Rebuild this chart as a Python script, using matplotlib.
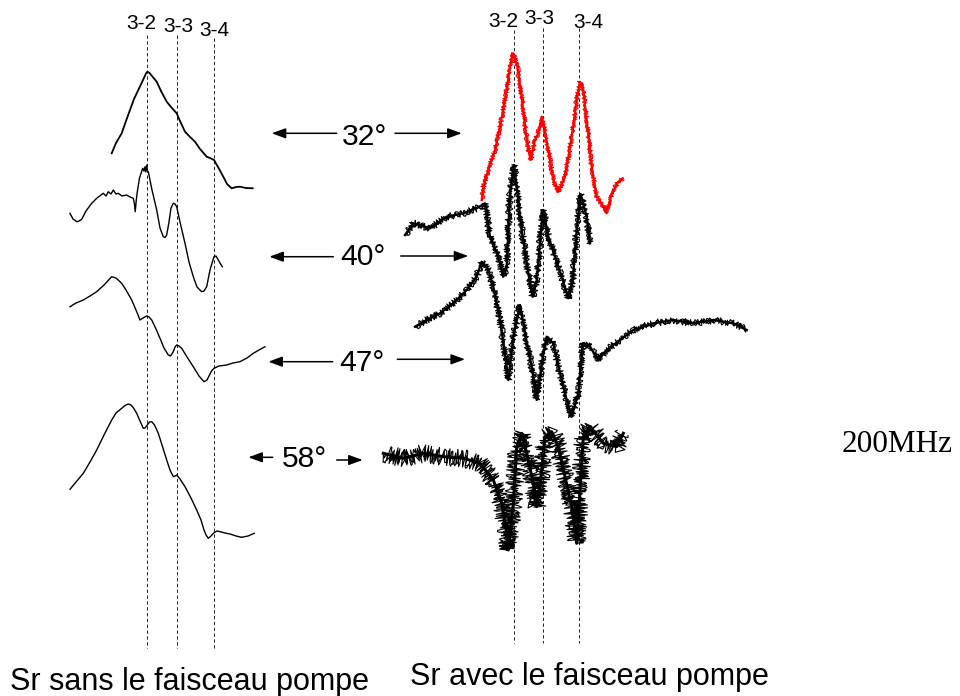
import matplotlib
matplotlib.use("Agg")
import matplotlib.pyplot as plt
from matplotlib import font_manager

# everything is placed on the picture's own pixel grid (x to the right, y downwards)

# hyperfine line positions (dashed guides)
left_lines_x = [147, 177, 214]
left_lines_top = [35, 35, 38]
left_lines_bottom = 648
right_lines_x = [514, 543, 579]
right_lines_top = [30, 28, 28]
right_lines_bottom = 643
line_labels = ["3-2", "3-3", "3-4"]
left_label_x = [141.7, 178, 214]
left_label_base = [29, 31.5, 36]
right_label_x = [503.3, 539.7, 588.7]
right_label_base = [27, 24, 28.5]

# Sr sans le faisceau pompe (left, smooth traces)
left_32_x = [111.7, 116, 121.7, 126, 130, 134, 138.3, 143, 146, 147.3, 149, 152, 156.7, 161, 166.7, 171, 176.7,
             180, 185, 190, 195, 200, 206.7, 210, 214, 218, 223.3, 227, 231.7, 236, 240, 246, 252.7]
left_32_y = [153.3, 143, 133.3, 121, 110, 99, 90, 80, 73.5, 71.7, 72.5, 76, 81.7, 91, 101.7, 107, 113.3,
             121, 131.7, 137, 141.7, 149, 156.7, 158, 160, 167, 176.7, 184, 188.3, 187, 186.7, 188, 188.3]

left_40_x = [70, 73, 76.7, 79, 81.7, 86, 91.7, 97, 103.3, 106, 108.3, 111, 113.3, 116, 118.3, 122, 126.7, 130,
             133.3, 134.5, 135.2, 136.3, 137.3, 139.5, 142.7, 144, 145, 145.8, 146.7, 147.5, 148.3, 152, 156.7,
             160, 163.3, 165, 166.7, 169, 171, 173.3, 175, 176.7, 180, 185, 189, 193.3, 197, 201.7, 204, 206.7,
             210, 214, 216, 218.3, 220, 222.3]
left_40_y = [213.3, 219, 221.7, 221, 219.3, 211, 203.3, 198, 193.3, 196, 191.7, 194, 190, 194, 193.3, 196, 195, 197,
             198.3, 204, 211.7, 200, 191.7, 178, 168.3, 171, 166.7, 172, 165, 171, 171.7, 190, 210,
             228, 236.7, 237.5, 235, 222, 208, 203.3, 204, 206.7, 222, 243.3, 262, 276.7, 287, 291.7, 291, 286.7,
             270, 256.7, 256, 260, 263, 266.7]

left_47_x = [70, 76, 83.3, 90, 96.7, 104, 111.7, 116, 121.7, 126, 131.7, 136, 140, 143, 146.7, 149, 151.7, 156,
             160, 164, 168.3, 170.5, 173.3, 175, 176.7, 179, 181.7, 187, 193.3, 199, 204, 207, 209, 211.5, 214,
             219, 226.7, 233, 240, 247, 253.3, 259, 265]
left_47_y = [306.7, 303, 300, 296, 291.7, 285, 276.7, 278, 283.3, 290, 300, 310, 320, 318, 316, 317, 320, 329,
             338.3, 348, 355, 356, 351.7, 347, 345, 346, 348.3, 357, 366.7, 376, 381.7, 380, 376, 371, 368.3,
             366, 365, 363, 361.7, 358, 353.3, 350, 346.7]

left_58_x = [70, 76, 83.3, 90, 96.7, 104, 111.7, 116, 121.7, 125, 128.3, 131, 133.5, 136.7, 140, 143.3, 145,
             147.3, 149.5, 151.7, 154.5, 158.3, 162, 166.7, 170, 173.3, 175, 176.7, 180, 185, 191, 196.7, 201,
             204, 206, 208.3, 211, 214, 217, 220, 225, 230, 236, 241.7, 248, 254.3]
left_58_y = [489.3, 482, 473.3, 462, 450, 435, 420, 413, 408.3, 405.5, 404, 405, 408, 413.3, 421, 428.3, 428,
             425, 422, 421.7, 425, 433.3, 445, 460, 470, 476.7, 476, 475, 479, 486.7, 498, 510, 520,
             530, 535, 538.3, 536, 532.7, 531, 531.7, 533, 534, 536, 537.3, 536, 533.3]

# Sr avec le faisceau pompe (right, noisy traces)
right_32_x = [481.7, 483.3, 488.3, 495, 500, 505, 510, 513.3, 517.3, 521.7, 526.7, 530.7, 535, 538.3, 541.7, 544,
              548.3, 553.3, 558.3, 565, 571.7, 576.7, 580, 583.3, 586.7, 591.7, 596.7, 603.3, 606.7, 611.7, 618.3, 622.7]
right_32_y = [200, 186.7, 170, 150, 126.7, 100, 66.7, 53.3, 66.7, 96.7, 140, 160, 140, 133.3, 116.7, 126.7,
              150, 180, 191.7, 176.7, 136.7, 100, 81.7, 90, 120, 166.7, 196.7, 206.7, 213.3, 193.3, 181.7, 178.3]

right_40_x = [405, 413.3, 430, 446.7, 463.3, 476.7, 485, 490, 498.3, 503.3, 506.7, 510, 514, 517, 521.7, 528.3,
              532.7, 536.7, 541.7, 543.3, 548.3, 555, 561.7, 568.3, 572.7, 576.7, 580.5, 586.7, 590]
right_40_y = [235, 223.3, 228.3, 216.7, 213.3, 208.3, 203.3, 236.7, 256.7, 276.7, 266.7, 193.3, 165, 190, 230, 273.3,
              296.7, 280, 223.3, 210, 236.7, 256.7, 276.7, 298.3, 280, 230, 194, 216.7, 243.3]

right_47_x = [415, 426.7, 440, 453.3, 466.7, 476.7, 481.7, 488.3, 493.3, 500, 505, 508.3, 513.3, 520, 525, 531.7,
              536.7, 543.3, 546.7, 553.3, 560, 566.7, 571.7, 578.3, 582.7, 590, 598.3, 606.7, 620, 633.3, 653.3,
              673.3, 693.3, 713.3, 733.3, 746.7]
right_47_y = [326.7, 320, 313.3, 303.3, 290, 276.7, 261.7, 270, 286.7, 320, 353.3, 380, 336.7, 305, 333.3, 366.7,
              400, 353.3, 336.7, 343.3, 373.3, 400, 416.7, 393.3, 343.3, 346.7, 360, 350, 340, 330, 323.3,
              320, 323.3, 320, 323.3, 330]

right_58_x = [383.3, 403.3, 423.3, 443.3, 463.3, 480, 493.3, 501.7, 506.7, 508.3, 513.3, 516.7, 521.7, 526.7,
              533.3, 536.7, 540, 545, 551.7, 558.3, 565, 571.7, 576.7, 580, 583.3, 590, 603.3, 616.7, 623.3]
right_58_y = [453.3, 458.3, 453.3, 456.7, 458.3, 463.3, 480, 503.3, 533.3, 550, 503.3, 446.7, 433.3, 453.3,
              483.3, 506.7, 486.7, 436.7, 431.7, 446.7, 476.7, 506.7, 543.3, 490, 436.7, 426.7, 443.3, 446.7, 433.3]

# angle labels and double arrows
angles = ["32°", "40°", "47°", "58°"]
angle_x = [364, 363, 361.5, 304]
angle_base = [145, 265, 370.7, 467]
arrow_left_from = [336.7, 333.3, 332.7, 272.7]
arrow_left_to = [271.7, 269.3, 268.3, 248.3]
arrow_left_y = [133.3, 256.7, 361.7, 457.3]
arrow_right_from = [395, 400.7, 397.3, 336.7]
arrow_right_to = [461.7, 468.3, 465, 362.7]
arrow_right_y = [133.3, 256, 359.3, 460]


def pick_font(names):
    for name in names:
        try:
            font_manager.findfont(name, fallback_to_default=False)
            return name
        except ValueError:
            pass
    return "DejaVu Sans"


sans = pick_font(["Liberation Sans", "Arial", "DejaVu Sans"])
serif = pick_font(["Liberation Serif", "Times New Roman", "DejaVu Serif"])

fig = plt.figure(figsize=(9.6, 6.96), dpi=100)
ax = fig.add_axes([0, 0, 1, 1])
ax.set_xlim(0, 960)
ax.set_ylim(696, 0)
ax.axis("off")

# dashed guides
for x, top in zip(left_lines_x, left_lines_top):
    ax.plot([x, x], [top, left_lines_bottom], color="black", lw=0.6, ls=(0, (4, 3)))
for x, top in zip(right_lines_x, right_lines_top):
    ax.plot([x, x], [top, right_lines_bottom], color="black", lw=0.6, ls=(0, (4, 3)))

for lab, x, y in zip(line_labels, left_label_x, left_label_base):
    ax.text(x, y, lab, ha="center", va="baseline", fontsize=15, family=sans)
for lab, x, y in zip(line_labels, right_label_x, right_label_base):
    ax.text(x, y, lab, ha="center", va="baseline", fontsize=15, family=sans)

# left traces, smooth
ax.plot(left_32_x, left_32_y, color="black", lw=1.3)
for xs, ys in [(left_40_x, left_40_y), (left_47_x, left_47_y), (left_58_x, left_58_y)]:
    ax.plot(xs, ys, color="black", lw=1.0)

# right traces: a solid core plus jittered copies (sketch style) for the detector noise
noisy = [(right_32_x, right_32_y, "#ff0000", 2.4, 1.6),
         (right_40_x, right_40_y, "black", 3.5, 1.7),
         (right_47_x, right_47_y, "black", 3.5, 1.7),
         (right_58_x, right_58_y, "black", 9.0, 2.2)]
for xs, ys, col, amp, core in noisy:
    ax.plot(xs, ys, color=col, lw=core)
    for length, frac in [(0.7, 1.0), (1.3, 0.7)]:
        ln, = ax.plot(xs, ys, color=col, lw=0.8)
        ln.set_sketch_params(scale=amp * frac, length=length, randomness=20)

# angle labels with arrows
for i, lab in enumerate(angles):
    ax.text(angle_x[i], angle_base[i], lab, ha="center", va="baseline", fontsize=21.6, family=sans)
    for x0, x1, y in [(arrow_left_from[i], arrow_left_to[i], arrow_left_y[i]),
                      (arrow_right_from[i], arrow_right_to[i], arrow_right_y[i])]:
        ax.annotate("", xy=(x1, y), xytext=(x0, y),
                    arrowprops=dict(arrowstyle="-|>,head_length=0.6,head_width=0.22", mutation_scale=14,
                                    color="black", lw=1.1, shrinkA=0, shrinkB=0))

ax.text(842, 452, "200MHz", ha="left", va="baseline", fontsize=22.5, family=serif)

ax.text(190, 690, "Sr sans le faisceau pompe", ha="center", va="baseline", fontsize=22, family=sans)
ax.text(589.5, 685, "Sr avec le faisceau pompe", ha="center", va="baseline", fontsize=22, family=sans)

fig.savefig("out.png", dpi=100)
